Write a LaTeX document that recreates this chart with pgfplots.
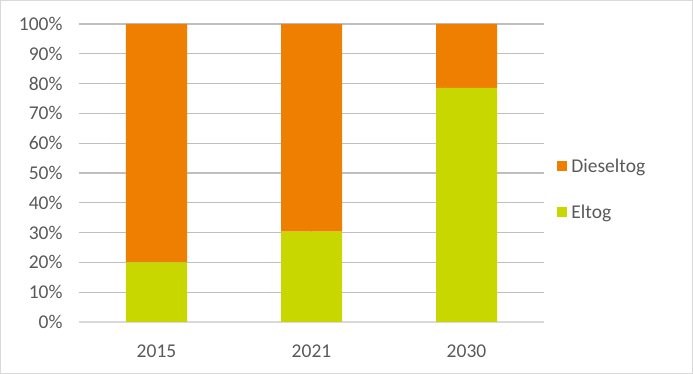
\documentclass[border=0pt]{standalone}
\usepackage{pgfplots}
\pgfplotsset{compat=1.18}
\usepackage{fontspec}
\setmainfont{Carlito}
\definecolor{diesel}{HTML}{EF7F00}
\definecolor{el}{HTML}{C8D700}
\definecolor{txt}{HTML}{595959}
\definecolor{grid}{HTML}{D9D9D9}
\begin{document}
\begin{tikzpicture}
\begin{axis}[
  scale only axis,
  width=465pt, height=298pt,
  ybar stacked,
  bar width=61pt,
  xmin=-0.5, xmax=2.5,
  ymin=0, ymax=100,
  xtick={0,1,2},
  xticklabels={2015,2021,2030},
  ytick={0,10,...,100},
  yticklabel={\pgfmathprintnumber{\tick}\%},
  /pgf/number format/assume math mode=true,
  tick style={draw=none},
  ymajorgrids,
  grid style={grid, line width=1.3pt},
  axis line style={draw=none},
  axis x line*=bottom,
  x axis line style={draw=grid, line width=1.3pt},
  axis y line*=left,
  y axis line style={draw=none},
  tick label style={font=\fontsize{19.5}{22}\selectfont, text=txt},
  yticklabel style={xshift=-13pt},
  xticklabel style={yshift=-19pt},
  legend style={at={(rel axis cs:1.022,0.446)}, anchor=west, draw=none, fill=none,
    font=\fontsize{19.5}{22}\selectfont, text=txt, row sep=27pt,
    cells={anchor=west}, /tikz/every even column/.append style={column sep=0pt}},
  legend image code/.code={\fill[#1] (0pt,-5pt) rectangle (10pt,5pt);},
  reverse legend,
]
\addplot[fill=el, draw=none] coordinates {(0,20) (1,30.3) (2,78.6)};
\addplot[fill=diesel, draw=none] coordinates {(0,80) (1,69.7) (2,21.4)};
\legend{\hspace{2pt}Eltog,\hspace{2pt}Dieseltog}
\end{axis}
\draw[color=grid, line width=1pt] ([shift={(-78.5pt,-51.5pt)}]current axis.south west) rectangle ++(692pt,373pt);
\end{tikzpicture}
\end{document}
